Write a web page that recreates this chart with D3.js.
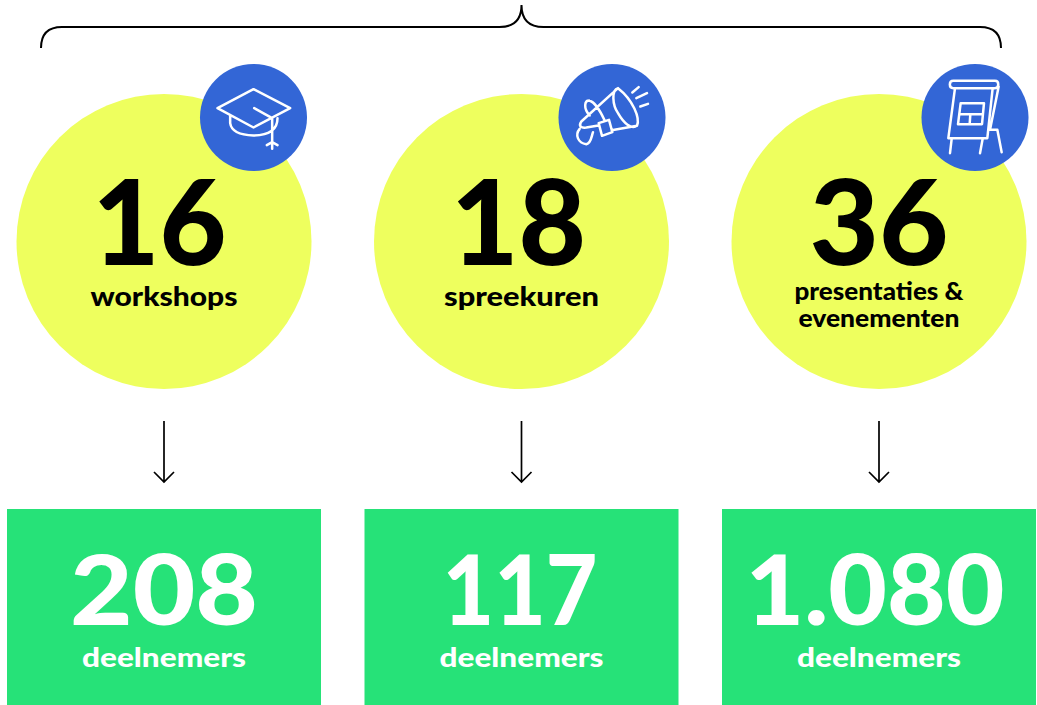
<!DOCTYPE html>
<html>
<head>
<meta charset="utf-8">
<script src="https://cdnjs.cloudflare.com/ajax/libs/d3/7.8.5/d3.min.js"></script>
<style>
    html, body {margin: 0; padding: 0; background: #fff;}
    svg {display: block;}
    text {font-family: Lato, "Open Sans", sans-serif; text-anchor: middle;}
    .count {font-weight: 900; font-size: 118px; fill: #000;}
    .label {font-weight: 900; font-size: 27px; fill: #000;}
    .label.small {font-size: 25px;}
    .people {font-weight: 900; font-size: 98px; fill: #fff;}
    .peopleLabel {font-weight: 900; font-size: 27px; fill: #fff;}
</style>
</head>
<body>
<svg id="chart" width="1037" height="705"></svg>
<script>
const categories = ["workshops", "spreekuren", "presentaties & evenementen"];
const labelLines = [["workshops"], ["spreekuren"], ["presentaties &", "evenementen"]];
const counts = [16, 18, 36];
const participants = [208, 117, 1080];
const participantLabel = "deelnemers";
const iconNames = ["hat", "megaphone", "board"];

// the original typeface is wider than Lato, so texts get fitted to the measured width
const countWidths = [134, 135, 139];
const countShift = [-4.5, -3, 0];
const peopleWidths = [188, 155, 259];
const peopleShift = [0, -1.5, -4];
const lineWidths = [[147], [155], [169, 161]];
const peopleLabelWidth = 164;

const YELLOW = "#eeff5e";
const BLUE = "#3366d6";
const GREEN = "#26e278";

// icons drawn at 3x, around their own centre
const icons = {
    hat: {
        cx: 190, cy: 188,
        d: "M190 103L300 160L190 218L82 160Z" +
           "M120 182V205Q125 240 190 242Q262 240 262 190" +
           "M192 160L246 190V282M230 271L246 262L262 271"
    },
    megaphone: {
        cx: 187, cy: 188,
        d: "M205 100C185 105 188 150 205 175C222 205 245 225 262 213C272 190 250 135 205 100Z" +
           "M205 100L95 200C85 215 95 220 110 218L146 212M186 226L262 213" +
           "M118 137C105 137 100 160 120 182M118 137C135 140 155 175 165 197" +
           "M147 205L178 195L188 232L157 243Z" +
           "M90 222C75 240 85 265 110 268C125 265 125 245 130 232" +
           "M248 113L267 97M260 130L292 115M272 155L295 147"
    },
    board: {
        cx: 195, cy: 188,
        d: "M130 78H255C268 78 268 100 255 100H130C116 100 116 78 130 78Z" +
           "M135 100L115 250H232L248 100" +
           "M266 95L240 225H262M262 225L275 292" +
           "M125 252L120 295M218 252L210 295" +
           "M152 145H222L216 208H144Z M148 178H219M181 178L179 208"
    }
};

/**********************
***** BASIC SETUP *****
**********************/

const svg = d3.select("#chart");

const xScale = d3.scalePoint()
    .domain(categories)
    .range([164, 879]);

const nl = d3.formatLocale({decimal: ",", thousands: ".", grouping: [3], currency: ["€", ""]});
const formatNumber = nl.format(",d");

const columns = categories.map((name, i) => ({
    name: name,
    lines: labelLines[i],
    widths: lineWidths[i],
    count: counts[i],
    countWidth: countWidths[i],
    countDx: countShift[i],
    people: participants[i],
    peopleWidth: peopleWidths[i],
    peopleDx: peopleShift[i],
    icon: icons[iconNames[i]]
}));

/****************
***** BRACE *****
*****************/

const mid = xScale(categories[1]);
svg.append("path")
    .attr("fill", "none")
    .attr("stroke", "#000")
    .attr("stroke-width", 2)
    .attr("d", `M41 48Q41 27 62 27H${mid - 22}Q${mid} 27 ${mid} 5Q${mid} 27 ${mid + 22} 27H980Q1001 27 1001 48`);

/******************
***** COLUMNS *****
******************/

const col = svg.selectAll(".column")
    .data(columns)
    .enter()
    .append("g")
    .attr("class", "column")
    .attr("transform", d => `translate(${xScale(d.name)}, 0)`);

col.append("circle")
    .attr("cy", 241.5)
    .attr("r", 147.5)
    .attr("fill", YELLOW);

col.append("text")
    .attr("class", "count")
    .attr("x", d => d.countDx)
    .attr("y", 265)
    .attr("textLength", d => d.countWidth)
    .attr("lengthAdjust", "spacingAndGlyphs")
    .text(d => d.count);

col.each(function(d) {
    const g = d3.select(this);
    const small = d.lines.length > 1;
    d.lines.forEach((line, i) => {
        g.append("text")
            .attr("class", small ? "label small" : "label")
            .attr("y", small ? 300 + i * 27 : 306)
            .attr("textLength", d.widths[i])
            .attr("lengthAdjust", "spacingAndGlyphs")
            .text(line);
    });
});

// icon badge, offset from circle centre
const badgeDx = [89.5, 90.5, 96];
const badge = col.append("g")
    .attr("transform", (d, i) => `translate(${badgeDx[i]}, 117.5)`);

badge.append("circle")
    .attr("r", 53.5)
    .attr("fill", BLUE);

badge.append("path")
    .attr("transform", d => `scale(${1 / 3}) translate(${-d.icon.cx}, ${-d.icon.cy})`)
    .attr("d", d => d.icon.d)
    .attr("fill", "none")
    .attr("stroke", "#fff")
    .attr("stroke-width", 7.5)
    .attr("stroke-linejoin", "round")
    .attr("stroke-linecap", "round");

// arrows
col.append("path")
    .attr("fill", "none")
    .attr("stroke", "#000")
    .attr("stroke-width", 1.7)
    .attr("d", "M0 421V482M-10 472L0 482L10 472");

// green boxes
col.append("rect")
    .attr("x", -157)
    .attr("y", 509)
    .attr("width", 314)
    .attr("height", 196)
    .attr("fill", GREEN);

col.append("text")
    .attr("class", "people")
    .attr("x", d => d.peopleDx)
    .attr("y", 625)
    .attr("textLength", d => d.peopleWidth)
    .attr("lengthAdjust", "spacingAndGlyphs")
    .text(d => formatNumber(d.people));

col.append("text")
    .attr("class", "peopleLabel")
    .attr("y", 667)
    .attr("textLength", peopleLabelWidth)
    .attr("lengthAdjust", "spacingAndGlyphs")
    .text(participantLabel);
</script>
</body>
</html>
